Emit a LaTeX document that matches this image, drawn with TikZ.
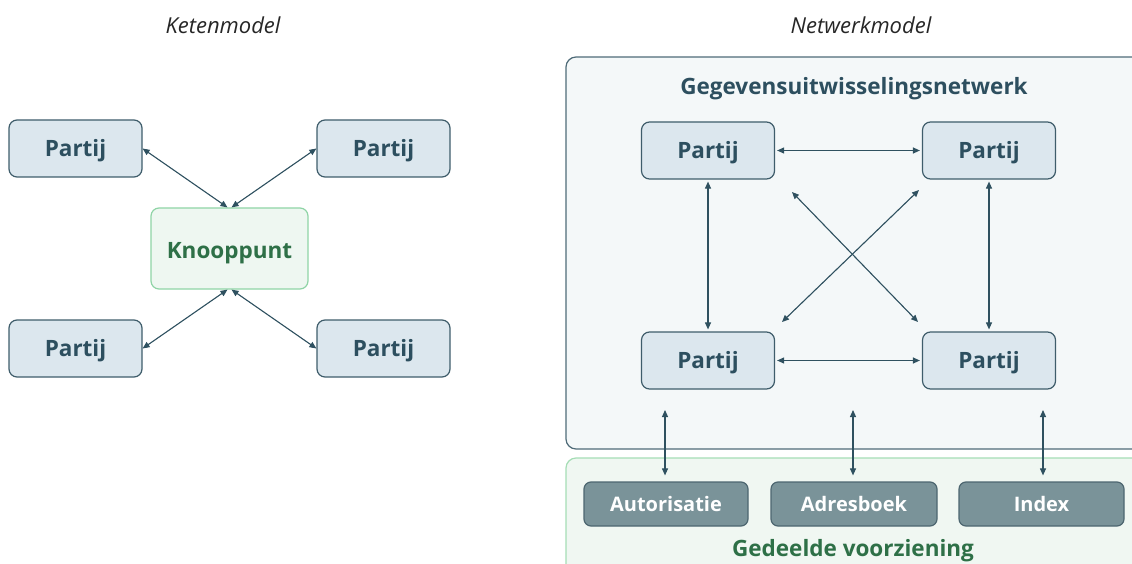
\documentclass[tikz,border=0pt]{standalone}
\usepackage{fontspec}
\setmainfont{Open Sans}
\usetikzlibrary{arrows.meta}
\definecolor{pfill}{HTML}{DCE7EE}
\definecolor{pdraw}{HTML}{3F5D6B}
\definecolor{ptext}{HTML}{2D4F5F}
\definecolor{kfill}{HTML}{EEF7F1}
\definecolor{kdraw}{HTML}{8FD4A6}
\definecolor{ktext}{HTML}{2E7047}
\definecolor{netfill}{HTML}{F4F8F9}
\definecolor{netdraw}{HTML}{4F6B78}
\definecolor{gfill}{HTML}{F0F7F2}
\definecolor{gdraw}{HTML}{A5DDB5}
\definecolor{sfill}{HTML}{7A9399}
\definecolor{sdraw}{HTML}{4D6670}
\definecolor{acol}{HTML}{2F5160}
\tikzset{
  partij/.style={draw=pdraw, fill=pfill, rounded corners=8pt, minimum width=133pt, minimum height=57pt,
    line width=1.2pt, font=\bfseries\fontsize{22.5}{26}\selectfont, text=ptext, inner sep=0pt,
    text height=16pt, text depth=0pt},
  knoop/.style={draw=kdraw, fill=kfill, rounded corners=8pt, minimum width=157pt, minimum height=81pt,
    line width=1.2pt, font=\bfseries\fontsize{22.5}{26}\selectfont, text=ktext, inner sep=0pt,
    text height=19pt, text depth=0pt},
  svc/.style={draw=sdraw, fill=sfill, rounded corners=7pt, minimum height=44pt,
    line width=1.2pt, font=\bfseries\fontsize{20}{24}\selectfont, text=white, inner sep=0pt,
    text height=14.3pt, text depth=0pt},
  arr/.style={{Triangle[length=7pt,width=6pt]}-{Triangle[length=7pt,width=6pt]}, draw=acol, fill=acol, line width=1.1pt},
  ttl/.style={font=\itshape\fontsize{22}{26}\selectfont, text=black!85, text height=15.7pt, text depth=0pt, inner sep=0pt},
  hdr/.style={font=\bfseries\fontsize{22.5}{26}\selectfont, text height=16pt, text depth=0pt, inner sep=0pt}
}
\begin{document}
\begin{tikzpicture}[x=1pt,y=-1pt]
\useasboundingbox (0,0) rectangle (1132,564);
\clip (0,0) rectangle (1132,564);
% titles
\node[ttl] (t1) at (223,26) {Ketenmodel};
\node[ttl] (t2) at (861,26) {Netwerkmodel};
% chain model
\node[partij] (l1) at (75.5,148.5) {Partij};
\node[partij] (l2) at (383.5,148.5) {Partij};
\node[partij] (l3) at (75.5,348.5) {Partij};
\node[partij] (l4) at (383.5,348.5) {Partij};
\node[knoop] (k) at (229.5,248.5) {Knooppunt};
\draw[arr] (l1.east) -- ([xshift=-2pt]k.north);
\draw[arr] (l2.west) -- ([xshift=2pt]k.north);
\draw[arr] (l3.east) -- ([xshift=-2pt]k.south);
\draw[arr] (l4.west) -- ([xshift=2pt]k.south);
% network model
\draw[draw=gdraw, fill=gfill, line width=1.2pt, rounded corners=10pt] (566,458) rectangle (1150,580);
\draw[draw=netdraw, fill=netfill, line width=1.2pt, rounded corners=10pt] (566,57) rectangle (1150,449);
\node[hdr, text=ptext] (nettitle) at (854,86.5) {Gegevensuitwisselingsnetwerk};
\node[partij] (n1) at (708,150.5) {Partij};
\node[partij] (n2) at (989,150.5) {Partij};
\node[partij] (n3) at (708,360.5) {Partij};
\node[partij] (n4) at (989,360.5) {Partij};
\draw[arr, shorten <=2pt, shorten >=2pt] (n1.east) -- (n2.west);
\draw[arr, shorten <=2pt, shorten >=2pt] (n3.east) -- (n4.west);
\draw[arr, shorten <=2pt, shorten >=2pt] (n1.south) -- (n3.north);
\draw[arr, shorten <=2pt, shorten >=2pt] (n2.south) -- (n4.north);
\coordinate (d1) at (792,192);
\coordinate (d2) at (918,322);
\coordinate (d3) at (919,190);
\coordinate (d4) at (782,322);
\draw[arr] (d1) -- (d2);
\draw[arr] (d3) -- (d4);
% shared services
\node[svc, minimum width=164pt] (s1) at (666,504) {Autorisatie};
\node[svc, minimum width=166pt] (s2) at (854,504) {Adresboek};
\node[svc, minimum width=165pt] (s3) at (1041.5,504) {Index};
\node[hdr, text=ktext] (gv) at (853,548.5) {Gedeelde voorziening};
\coordinate (u1) at (665,410);
\coordinate (u2) at (853,410);
\coordinate (u3) at (1043,410);
\draw[arr, shorten >=6pt] (u1) -- (u1 |- s1.north);
\draw[arr, shorten >=6pt] (u2) -- (u2 |- s2.north);
\draw[arr, shorten >=6pt] (u3) -- (u3 |- s3.north);
\end{tikzpicture}
\end{document}
